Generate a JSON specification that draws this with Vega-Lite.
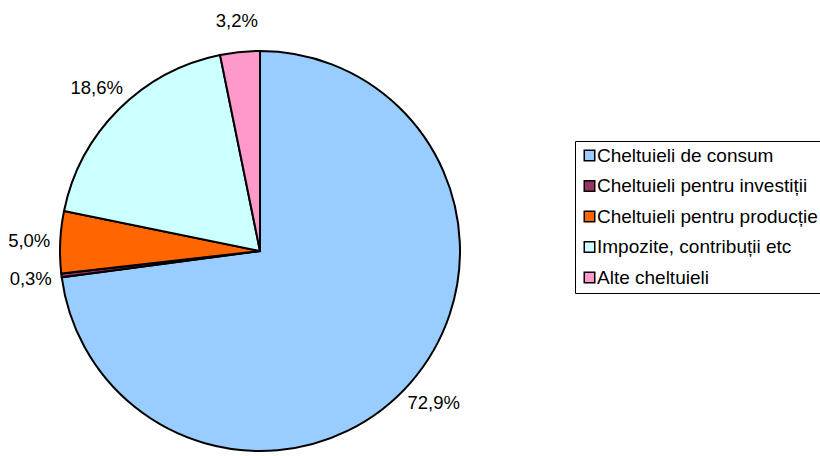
{
  "$schema": "https://vega.github.io/schema/vega-lite/v6.json",
  "autosize": "none",
  "width": 520,
  "height": 502,
  "padding": {"top": 0, "left": 0, "right": 300, "bottom": -46},
  "background": "white",
  "data": {
    "values": [
      {"i": 1, "name": "Cheltuieli de consum", "value": 72.9, "label": "72,9%"},
      {"i": 2, "name": "Cheltuieli pentru investiții", "value": 0.3, "label": "0,3%"},
      {"i": 3, "name": "Cheltuieli pentru producție", "value": 5.0, "label": "5,0%"},
      {"i": 4, "name": "Impozite, contribuții etc", "value": 18.6, "label": "18,6%"},
      {"i": 5, "name": "Alte cheltuieli", "value": 3.2, "label": "3,2%"}
    ]
  },
  "encoding": {
    "theta": {"field": "value", "type": "quantitative", "stack": true},
    "order": {"field": "i", "type": "quantitative"}
  },
  "layer": [
    {
      "mark": {"type": "arc", "outerRadius": 200, "stroke": "black", "strokeWidth": 2},
      "encoding": {
        "color": {
          "field": "name",
          "type": "nominal",
          "sort": null,
          "scale": {
            "domain": ["Cheltuieli de consum", "Cheltuieli pentru investiții", "Cheltuieli pentru producție", "Impozite, contribuții etc", "Alte cheltuieli"],
            "range": ["#99CCFF", "#993366", "#FF6600", "#CCFFFF", "#FF99CC"]
          },
          "legend": {
            "orient": "none",
            "legendX": 575,
            "legendY": 141,
            "title": null,
            "symbolType": "square",
            "symbolSize": 110,
            "symbolStrokeColor": "black",
            "symbolStrokeWidth": 1.5,
            "symbolOpacity": 1,
            "labelFont": "Liberation Sans",
            "labelFontSize": 19,
            "labelColor": "black",
            "labelLimit": 0,
            "labelOffset": -2,
            "rowPadding": 10.5,
            "padding": 5,
            "strokeColor": "black",
            "fillColor": "white"
          }
        }
      }
    },
    {
      "mark": {"type": "text", "radius": 231, "font": "Liberation Sans", "fontSize": 18.5, "color": "black"},
      "encoding": {
        "text": {"field": "label", "type": "nominal"}
      }
    }
  ],
  "config": {"view": {"stroke": null}}
}
